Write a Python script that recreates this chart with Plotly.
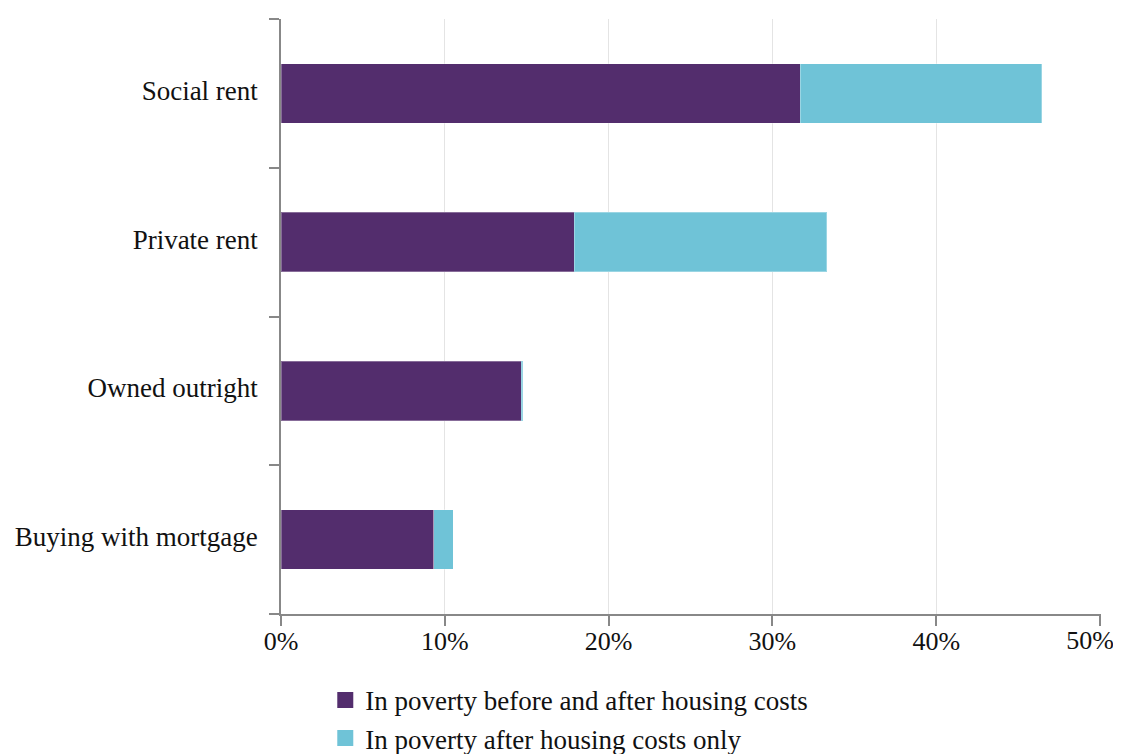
import plotly.graph_objects as go

categorias = ["Buying with mortgage", "Owned outright", "Private rent", "Social rent"]
antes_e_depois = [9.33, 14.66, 17.89, 31.71]
so_depois = [1.18, 0.1, 15.42, 14.74]
nomes = ["In poverty before and after housing costs", "In poverty after housing costs only"]
cores = ["#532d6d", "#6fc3d7"]
ticks_x = [0, 10, 20, 30, 40, 50]
rotulos_x = [f"{v}%" for v in ticks_x]

fonte = "Liberation Serif"

fig = go.Figure()
for valores, nome, cor in zip([antes_e_depois, so_depois], nomes, cores):
    fig.add_trace(go.Bar(
        x=valores, y=categorias, orientation="h", name=nome,
        marker=dict(color=cor, line=dict(color="rgba(255,255,255,0.3)", width=1)),
        width=0.4, showlegend=False,
    ))

# entradas da legenda com quadrados maiores
for i, (nome, cor) in enumerate(zip(nomes, cores)):
    fig.add_trace(go.Scatter(
        x=[None], y=[None], mode="markers", name=nome, legendgroup=f"g{i}",
        marker=dict(symbol="square", size=16, color=cor),
    ))

fig.update_layout(
    barmode="stack",
    width=1121, height=754,
    margin=dict(l=273, r=28, t=11, b=148, autoexpand=False),
    plot_bgcolor="white", paper_bgcolor="white",
    font=dict(family=fonte, size=27, color="#111111"),
    legend=dict(
        orientation="v", x=0.054, xanchor="left", y=-0.104, yanchor="top",
        font=dict(size=27), itemsizing="trace", tracegroupgap=1,
        traceorder="normal",
    ),
    xaxis=dict(
        range=[0, 50.06], tickvals=ticks_x,
        ticktext=rotulos_x[:-1] + [""],
        tickfont=dict(size=26), ticklabelstandoff=-7,
        showgrid=True, gridcolor="#e4e4e4", gridwidth=1,
        showline=True, linecolor="#888888", linewidth=1.5,
        ticks="outside", ticklen=10, tickcolor="#888888", tickwidth=1.5,
        zeroline=False, ticklabeloverflow="allow",
    ),
    # eixo só para o último rótulo, puxado para dentro da borda
    xaxis2=dict(
        overlaying="x", anchor="y", side="bottom", range=[0, 50.06],
        tickvals=ticks_x[-1:], ticktext=rotulos_x[-1:],
        tickfont=dict(size=26), ticklabelstandoff=-7, ticklabelshift=-10,
        ticks="outside", ticklen=10, tickcolor="rgba(0,0,0,0)",
        showgrid=False, showline=False, zeroline=False,
        ticklabeloverflow="allow",
    ),
    yaxis=dict(
        categoryorder="array", categoryarray=categorias,
        showline=True, linecolor="#888888", linewidth=1.5,
        ticks="outside", tickson="boundaries", ticklen=10, tickcolor="#888888", tickwidth=1.5,
        showgrid=False, ticklabelstandoff=16, ticklabelshift=-3,
    ),
)
# traço vazio para o eixo auxiliar aparecer
fig.add_trace(go.Scatter(x=[None], y=[None], xaxis="x2", showlegend=False, hoverinfo="skip"))

fig.write_html("out.html")
